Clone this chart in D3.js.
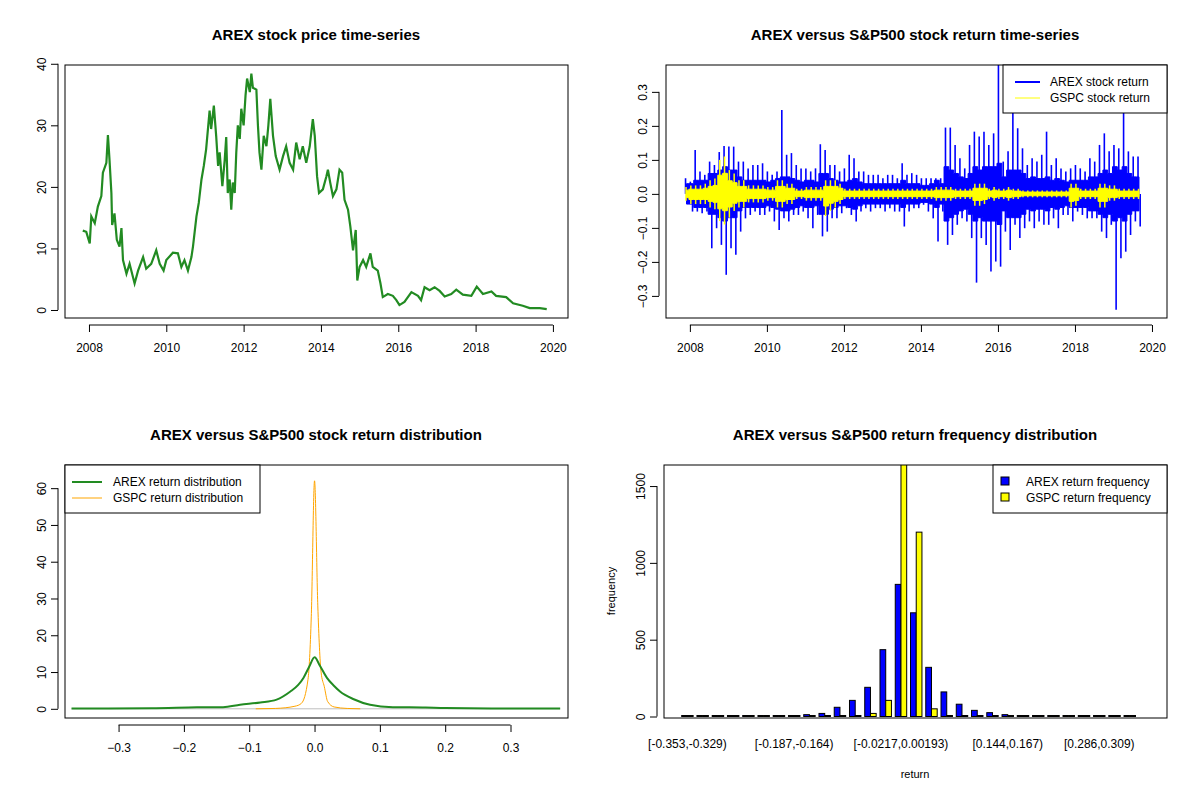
<!DOCTYPE html>
<html><head><meta charset="utf-8">
<script src="https://cdnjs.cloudflare.com/ajax/libs/d3/7.8.5/d3.min.js"></script>
<style>body{margin:0;background:#fff}text{font-family:"Liberation Sans",Arial,sans-serif}</style>
</head><body><svg id="c" width="1200" height="800"></svg>
<script>
// ---- Panel 1: AREX price (year, price)
const priceYear=[2007.84,2007.93,2008.02,2008.06,2008.15,2008.23,2008.32,2008.36,2008.45,2008.49,2008.53,2008.58,2008.60,2008.66,2008.72,2008.79,2008.84,2008.88,2008.97,2009.05,2009.18,2009.27,2009.40,2009.48,2009.61,2009.74,2009.83,2009.93,2010.00,2010.17,2010.30,2010.39,2010.47,2010.56,2010.65,2010.69,2010.78,2010.84,2010.91,2010.97,2011.03,2011.12,2011.16,2011.23,2011.29,2011.34,2011.38,2011.45,2011.51,2011.55,2011.59,2011.64,2011.68,2011.72,2011.77,2011.81,2011.85,2011.90,2011.94,2012.00,2012.05,2012.09,2012.16,2012.20,2012.24,2012.33,2012.37,2012.41,2012.46,2012.52,2012.59,2012.64,2012.69,2012.76,2012.83,2012.93,2013.02,2013.10,2013.19,2013.28,2013.36,2013.45,2013.53,2013.62,2013.71,2013.79,2013.84,2013.90,2013.95,2014.05,2014.14,2014.18,2014.24,2014.31,2014.40,2014.48,2014.55,2014.61,2014.70,2014.76,2014.83,2014.90,2014.94,2015.00,2015.09,2015.17,2015.28,2015.34,2015.47,2015.54,2015.60,2015.73,2015.86,2015.95,2016.03,2016.16,2016.34,2016.51,2016.59,2016.68,2016.81,2016.94,2017.07,2017.20,2017.37,2017.50,2017.67,2017.89,2018.03,2018.19,2018.41,2018.53,2018.79,2018.97,2019.22,2019.40,2019.66,2019.84];
const priceValue=[12.9,12.7,10.8,15.2,14.1,16.8,18.5,22.3,23.9,28.4,24.5,19.0,13.8,15.7,11.4,10.3,13.3,8.1,5.9,7.5,4.3,6.4,8.6,6.7,7.5,9.7,7.5,6.4,8.1,9.3,9.2,7.0,8.1,6.4,8.6,10.3,15.2,17.4,21.2,23.4,26.1,32.4,29.4,33.2,28.3,23.4,25.6,20.1,24.3,28.1,19.0,21.2,16.3,20.7,19.0,25.6,30.0,27.8,32.7,30.0,34.9,37.6,35.4,38.4,36.1,35.8,30.0,25.6,22.8,28.3,26.6,30.0,34.3,28.3,25.0,22.8,25.0,26.6,23.9,22.8,27.2,24.5,26.6,23.9,26.6,31.0,28.3,21.7,19.0,19.6,21.7,22.8,20.7,18.5,19.6,22.8,22.3,17.9,16.3,13.6,9.7,13.0,4.8,7.0,8.1,7.0,9.2,7.0,6.4,4.3,2.1,2.6,2.3,1.6,0.8,1.3,2.9,2.3,1.6,3.7,3.2,3.7,3.1,2.2,2.6,3.3,2.5,2.3,3.8,2.6,3.0,2.3,2.1,1.1,0.7,0.3,0.3,0.15];

// ---- Panel 2: returns, envelopes per 1/8-year segment starting 2007.85
const retStart=2007.85, retStep=0.125;
const arexHi=[.046,.036,.129,.066,.056,.095,.085,.123,.141,.139,.139,.095,.095,.075,.085,.085,.09,.066,.056,.066,.247,.115,.12,.085,.075,.075,.066,.075,.146,.129,.085,.085,.066,.075,.115,.105,.066,.066,.056,.056,.056,.046,.056,.056,.046,.09,.056,.061,.056,.046,.046,.046,.046,.046,.195,.195,.144,.105,.075,.144,.183,.169,.183,.144,.178,.40,.095,.125,.40,.193,.134,.085,.105,.095,.115,.183,.085,.105,.075,.066,.075,.085,.075,.066,.105,.095,.144,.178,.125,.144,.134,.40,.125,.11,.11];
const arexLo=[-.023,-.052,-.052,-.057,-.052,-.16,-.101,-.15,-.238,-.16,-.179,-.111,-.072,-.062,-.052,-.062,-.062,-.052,-.081,-.106,-.072,-.081,-.062,-.062,-.052,-.072,-.101,-.062,-.125,-.111,-.072,-.072,-.057,-.042,-.062,-.081,-.052,-.042,-.052,-.042,-.042,-.052,-.042,-.052,-.052,-.096,-.052,-.042,-.042,-.032,-.052,-.072,-.14,-.052,-.15,-.121,-.091,-.072,-.081,-.13,-.261,-.13,-.15,-.228,-.199,-.214,-.111,-.165,-.091,-.13,-.101,-.081,-.101,-.081,-.091,-.091,-.072,-.101,-.062,-.062,-.081,-.052,-.062,-.072,-.072,-.072,-.111,-.13,-.091,-.341,-.189,-.17,-.121,-.081,-.096];
// typical (dense core) magnitude of daily AREX returns per segment
const arexCore=[.03,.03,.04,.04,.04,.06,.06,.07,.08,.07,.07,.05,.04,.04,.04,.04,.04,.035,.04,.045,.05,.05,.045,.04,.035,.04,.04,.035,.06,.06,.045,.04,.035,.035,.04,.045,.035,.03,.03,.03,.03,.03,.03,.03,.03,.04,.03,.03,.03,.025,.025,.03,.04,.03,.08,.07,.06,.05,.045,.06,.08,.07,.08,.08,.08,.09,.05,.07,.07,.07,.06,.045,.05,.045,.045,.05,.04,.045,.04,.035,.04,.04,.04,.04,.05,.05,.06,.07,.06,.08,.07,.08,.06,.05,.05];
const gspcHi=[.02,.025,.025,.025,.03,.04,.045,.10,.11,.07,.06,.04,.04,.025,.025,.025,.025,.02,.02,.04,.04,.03,.03,.015,.015,.02,.02,.02,.02,.04,.04,.04,.03,.015,.015,.015,.015,.015,.015,.015,.015,.015,.015,.015,.015,.015,.015,.015,.015,.015,.015,.015,.02,.02,.02,.02,.015,.015,.015,.015,.03,.03,.03,.015,.02,.015,.015,.02,.015,.015,.01,.01,.01,.01,.01,.01,.01,.01,.01,.01,.03,.03,.015,.015,.015,.015,.03,.03,.025,.025,.015,.015,.015,.015,.015];
const gspcLo=[-.02,-.03,-.03,-.03,-.03,-.04,-.045,-.08,-.09,-.07,-.05,-.04,-.04,-.025,-.025,-.025,-.025,-.02,-.02,-.04,-.04,-.03,-.03,-.015,-.015,-.02,-.02,-.02,-.02,-.065,-.05,-.04,-.03,-.015,-.015,-.015,-.015,-.015,-.015,-.015,-.015,-.015,-.015,-.015,-.015,-.015,-.015,-.015,-.015,-.015,-.015,-.015,-.02,-.02,-.02,-.02,-.015,-.015,-.015,-.015,-.035,-.035,-.03,-.015,-.02,-.015,-.015,-.02,-.015,-.015,-.01,-.01,-.01,-.01,-.01,-.01,-.01,-.01,-.01,-.01,-.04,-.035,-.015,-.015,-.015,-.015,-.04,-.04,-.02,-.02,-.015,-.015,-.015,-.015,-.015];

// ---- Panel 3: densities
const arexDensX=[-0.372,-0.25,-0.18,-0.14,-0.114,-0.083,-0.058,-0.037,-0.025,-0.017,-0.008,0,0.008,0.019,0.03,0.039,0.06,0.085,0.12,0.17,0.2,0.3,0.376];
const arexDensY=[0.1,0.15,0.4,0.45,1.1,1.7,2.5,4.7,6.5,8.4,11.5,14,11.8,8.4,6.2,4.7,2.6,1.1,0.45,0.35,0.2,0.1,0.1];
const gspcDensX=[-0.09,-0.06,-0.03,-0.02,-0.01,-0.005,0,0.005,0.01,0.015,0.02,0.03,0.05,0.07];
const gspcDensY=[0,0.1,0.7,1.5,8,25,62,28,10,6,2,0.5,0.1,0];

// ---- Panel 4: histogram, 30 bins
const binLabels=["[-0.353,-0.329)","","","","","","","[-0.187,-0.164)","","","","","","","[-0.0217,0.00193)","","","","","","","[0.144,0.167)","","","","","","[0.286,0.309)","",""];
const arexFreq=[5,0,0,0,3,3,3,3,12,20,60,105,190,435,860,675,320,160,80,40,25,12,5,5,3,3,0,0,0,0];
const gspcFreq=[0,0,0,0,0,0,0,0,0,0,5,5,20,105,2100,1200,50,5,0,0,0,0,0,0,0,0,0,0,0,0];

const svg=d3.select("#c");
const F="Liberation Sans, Arial, sans-serif";
function title(x,y,t){svg.append("text").attr("x",x).attr("y",y).attr("text-anchor","middle").attr("font-weight","bold").attr("font-size",15).text(t);}
function box(x0,y0,x1,y1){svg.append("rect").attr("x",x0).attr("y",y0).attr("width",x1-x0).attr("height",y1-y0).attr("fill","none").attr("stroke","#000");}
function xAxis(sc,y,ticks,fmt){const g=svg.append("g").attr("transform",`translate(0,${y})`).call(d3.axisBottom(sc).tickValues(ticks).tickFormat(fmt).tickSize(7).tickSizeOuter(0));
 g.select(".domain").attr("d",`M${sc(ticks[0])},0H${sc(ticks[ticks.length-1])}`);g.selectAll("text").attr("font-size",12).attr("dy","1.4em").attr("font-family",F);}
function yAxis(sc,x,ticks,fmt){const g=svg.append("g").attr("transform",`translate(${x},0)`).call(d3.axisLeft(sc).tickValues(ticks).tickFormat(fmt).tickSize(7).tickSizeOuter(0));
 g.select(".domain").attr("d",`M0,${sc(ticks[0])}V${sc(ticks[ticks.length-1])}`);
 g.selectAll(".tick text").attr("font-size",12).attr("font-family",F).attr("text-anchor","middle").attr("x",0).attr("dy",0).attr("transform","translate(-12,0) rotate(-90)");}
function clip(id,x0,y0,x1,y1){svg.append("clipPath").attr("id",id).append("rect").attr("x",x0).attr("y",y0).attr("width",x1-x0).attr("height",y1-y0);}

// Panel 1
{const x=d3.scaleLinear().domain([2007.38,2020.39]).range([65,568]);const y=d3.scaleLinear().domain([-1.3,39.8]).range([318,65]);
 svg.append("path").datum(d3.zip(priceYear,priceValue)).attr("fill","none").attr("stroke","#228B22").attr("stroke-width",2.2).attr("d",d3.line().x(d=>x(d[0])).y(d=>y(d[1])));
 box(65,65,568,318);xAxis(x,325,[2008,2010,2012,2014,2016,2018,2020],d3.format("d"));yAxis(y,58,[0,10,20,30,40],d3.format("d"));
 title(316,40,"AREX stock price time-series");}
// Panel 2
{const x=d3.scaleLinear().domain([2007.38,2020.39]).range([666,1167]);const y=d3.scaleLinear().domain([-0.365,0.379]).range([318,65]);
 clip("c2",666,65,1167,318);
 const g=svg.append("g").attr("clip-path","url(#c2)");
 const segs=d3.range(arexHi.length);
 const t=i=>retStart+i*retStep;
 // dense core band
 g.append("path").datum(segs).attr("fill","#0000FF").attr("stroke","#0000FF").attr("stroke-width",1)
  .attr("d",d3.area().x(i=>x(t(i)+retStep/2)).y0(i=>y(-arexCore[i])).y1(i=>y(arexCore[i])).curve(d3.curveStep));
 // extreme spikes
 g.selectAll(".sh").data(segs).join("line").attr("x1",i=>x(t(i)+retStep*0.3)).attr("x2",i=>x(t(i)+retStep*0.3)).attr("y1",y(0)).attr("y2",i=>y(arexHi[i])).attr("stroke","#0000FF").attr("stroke-width",1.6);
 g.selectAll(".sl").data(segs).join("line").attr("x1",i=>x(t(i)+retStep*0.75)).attr("x2",i=>x(t(i)+retStep*0.75)).attr("y1",y(0)).attr("y2",i=>y(arexLo[i])).attr("stroke","#0000FF").attr("stroke-width",1.6);
 g.append("path").datum(segs).attr("fill","#FFFF00").attr("stroke","#FFFF00").attr("stroke-width",1)
  .attr("d",d3.area().x(i=>x(t(i)+retStep/2)).y0(i=>y(gspcLo[i]*0.55)).y1(i=>y(gspcHi[i]*0.55)).curve(d3.curveStep));
 g.selectAll(".gh").data(segs).join("line").attr("x1",i=>x(t(i)+retStep*0.4)).attr("x2",i=>x(t(i)+retStep*0.4)).attr("y1",i=>y(gspcLo[i])).attr("y2",i=>y(gspcHi[i])).attr("stroke","#FFFF00").attr("stroke-width",1.5);
 box(666,65,1167,318);xAxis(x,325,[2008,2010,2012,2014,2016,2018,2020],d3.format("d"));yAxis(y,659,[-0.3,-0.2,-0.1,0,0.1,0.2,0.3],d3.format(".1f"));
 svg.append("rect").attr("x",1003).attr("y",65).attr("width",164).attr("height",48).attr("fill","#fff").attr("stroke","#000");
 [["AREX stock return","#0000FF",2],["GSPC stock return","#FFFF00",1]].forEach((d,i)=>{svg.append("line").attr("x1",1015).attr("x2",1040).attr("y1",82+i*16).attr("y2",82+i*16).attr("stroke",d[1]).attr("stroke-width",d[2]);
  svg.append("text").attr("x",1050).attr("y",86+i*16).attr("font-size",12).text(d[0]);});
 title(915,40,"AREX versus S&P500 stock return time-series");}
// Panel 3
{const x=d3.scaleLinear().domain([-0.382,0.388]).range([65,568]);const y=d3.scaleLinear().domain([-2.5,66.3]).range([718,465]);
 const ln=d3.line().x(d=>x(d[0])).y(d=>y(d[1])).curve(d3.curveMonotoneX);
 svg.append("line").attr("x1",x(-0.372)).attr("x2",x(0.376)).attr("y1",y(0)).attr("y2",y(0)).attr("stroke","#bebebe");
 svg.append("path").datum(d3.zip(gspcDensX,gspcDensY)).attr("fill","none").attr("stroke","orange").attr("stroke-width",1).attr("d",ln);
 svg.append("path").datum(d3.zip(arexDensX,arexDensY)).attr("fill","none").attr("stroke","#228B22").attr("stroke-width",2).attr("d",ln);
 box(65,465,568,718);xAxis(x,725,[-0.3,-0.2,-0.1,0,0.1,0.2,0.3],d3.format(".1f"));yAxis(y,58,[0,10,20,30,40,50,60],d3.format("d"));
 svg.append("rect").attr("x",65).attr("y",465).attr("width",195).attr("height",48).attr("fill","#fff").attr("stroke","#000");
 [["AREX return distribution","#228B22",2],["GSPC return distribution","orange",1]].forEach((d,i)=>{svg.append("line").attr("x1",72).attr("x2",102).attr("y1",482+i*16).attr("y2",482+i*16).attr("stroke",d[1]).attr("stroke-width",d[2]);
  svg.append("text").attr("x",113).attr("y",486+i*16).attr("font-size",12).text(d[0]);});
 title(316,440,"AREX versus S&P500 stock return distribution");}
// Panel 4
{const bins=d3.range(binLabels.length);
 const xb=d3.scaleBand().domain(bins).range([681.7,1135.5]).paddingInner(0.25).paddingOuter(0);
 const y=d3.scaleLinear().domain([0,1637]).range([716.5,465]);
 clip("c4",664,465,1167,718);
 const g=svg.append("g").attr("clip-path","url(#c4)");const bw=xb.bandwidth()/2;
 const h=v=>Math.max(1,y(0)-y(v));
 g.selectAll(".a").data(bins).join("rect").attr("x",i=>xb(i)).attr("width",bw).attr("y",i=>y(0)-h(arexFreq[i])).attr("height",i=>h(arexFreq[i])).attr("fill","#0000FF").attr("stroke","#000").attr("stroke-width",1);
 g.selectAll(".b").data(bins).join("rect").attr("x",i=>xb(i)+bw).attr("width",bw).attr("y",i=>y(0)-h(gspcFreq[i])).attr("height",i=>h(gspcFreq[i])).attr("fill","#FFFF00").attr("stroke","#000").attr("stroke-width",1);
 box(664,465,1167,718);
 const ya=svg.append("g").attr("transform","translate(657,0)").call(d3.axisLeft(y).tickValues([0,500,1000,1500]).tickFormat(d3.format("d")).tickSize(7).tickSizeOuter(0));
 ya.select(".domain").attr("d",`M0,${y(0)}V${y(1500)}`);
 ya.selectAll(".tick text").attr("font-size",12).attr("font-family",F).attr("text-anchor","middle").attr("x",0).attr("dy",0).attr("transform","translate(-12,0) rotate(-90)");
 bins.forEach(i=>{if(binLabels[i])svg.append("text").attr("x",xb(i)+xb.bandwidth()/2).attr("y",748).attr("text-anchor","middle").attr("font-size",12).text(binLabels[i]);});
 svg.append("text").attr("x",915).attr("y",778).attr("text-anchor","middle").attr("font-size",11).text("return");
 svg.append("text").attr("transform","translate(615,591) rotate(-90)").attr("text-anchor","middle").attr("font-size",11).text("frequency");
 svg.append("rect").attr("x",993).attr("y",465).attr("width",174).attr("height",48).attr("fill","#fff").attr("stroke","#000");
 [["AREX return frequency","#0000FF"],["GSPC return frequency","#FFFF00"]].forEach((d,i)=>{svg.append("rect").attr("x",1001).attr("y",477+i*16).attr("width",8).attr("height",8).attr("fill",d[1]).attr("stroke","#000");
  svg.append("text").attr("x",1026).attr("y",486+i*16).attr("font-size",12).text(d[0]);});
 title(915,440,"AREX versus S&P500 return frequency distribution");}
</script></body></html>
